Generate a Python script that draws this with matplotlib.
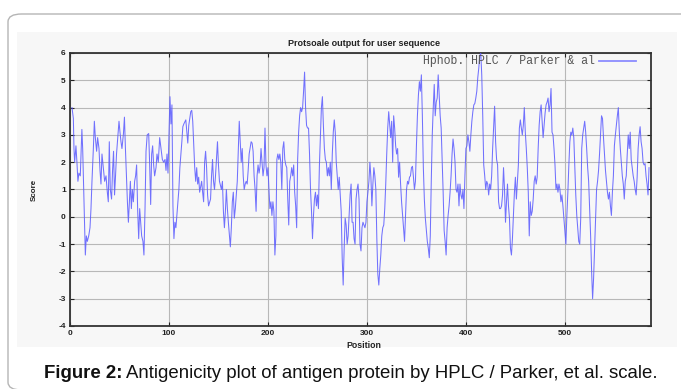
import numpy as np
import matplotlib
matplotlib.use('Agg')
import matplotlib.pyplot as plt
from matplotlib.patches import Rectangle, FancyBboxPatch

# positions 2..198 (irregular spacing)
pos_head = [2, 3.4, 4, 4.7, 6, 7, 8, 9, 10.4, 12, 12.8, 13.8, 14.8, 15.5, 16.5, 17.5, 18.9,
            20.2, 21.2, 22.2, 23.6, 24.6, 25.6, 26.9, 27.9, 29.3, 30.3, 31.3, 32.3, 33.7, 35,
            36.4, 37.7, 38.7, 39.7, 40.7, 42, 43, 44, 45, 46, 47, 48.5, 49.5, 50.5, 51.5, 52.5,
            54, 55, 56, 57, 58, 59, 60, 61, 62, 63, 64, 65.3, 66.3, 67.3, 68.4, 69.4, 70.4,
            71.4, 72.4, 73.7, 74.7, 75.8, 76.8, 78, 79.5, 80.5, 81.5, 82.5, 83.5, 84.5, 85.5,
            86.9, 87.9, 89.2, 90.6, 91.9, 93.3, 94.6, 96, 97, 98, 99, 100, 101, 102, 103,
            104, 105, 106, 107, 108, 109, 110, 111, 113, 114, 115, 117, 118, 119, 120, 122,
            123, 124, 125, 126, 127, 128, 129, 130, 131, 133, 134, 135, 136, 137, 138, 139,
            140, 142, 143, 144, 145, 146, 147, 148, 149, 150, 151, 153, 154, 155, 156, 157,
            158, 159, 160, 162, 163, 164, 165, 166, 167, 168, 169, 170, 171, 172, 173, 174,
            175, 176, 177, 178, 179, 180, 181, 183, 184, 185, 186, 187, 188, 189, 190, 191,
            192, 193, 195, 196, 197, 198]
score_head = [4.0, 3.6, 2.5, 2.0, 2.6, 2.0, 1.3, 1.6, 1.5, 3.2, 2.5, 1.0, -0.5, -1.4, -0.7, -0.9, -0.7,
              -0.4, 0.3, 1.3, 2.5, 3.5, 2.9, 2.4, 2.9, 2.5, 1.7, 1.2, 2.3, 1.8, 1.3,
              1.5, 0.9, 0.55, 2.75, 1.0, 0.65, 1.7, 2.4, 0.8, 1.5, 2.3, 3.0, 3.5, 3.1, 2.75, 2.5,
              3.05, 3.65, 2.5, 1.5, 0.55, -0.2, 0.55, 1.3, 0.3, 1.0, 0.55, 1.3, 1.5, 1.9, 0.2, -0.8, 0.3,
              -0.2, -0.7, -0.9, -1.4, 0.3, 2.4, 3.0, 3.05, 1.9, 0.45, 2.3, 2.6, 1.9, 1.5,
              1.8, 2.3, 2.0, 2.9, 2.5, 2.1, 2.0, 2.1, 1.7, 2.3, 1.6, 3.0, 4.4, 3.4, 4.1,
              0.4, -0.8, -0.2, -0.4, 0.05, 0.55, 1.0, 1.8, 2.75, 3.3, 3.4, 3.55, 3.1, 2.7, 3.35, 3.85,
              3.9, 3.5, 2.6, 1.8, 1.3, 1.8, 1.2, 1.45, 0.9, 1.3, 0.9, 0.55, 2.0, 2.4, 1.8, 0.8,
              0.4, 0.65, 1.5, 2.1, 1.3, 1.0, 1.5, 2.1, 2.75, 1.9, 1.3, 1.0, 1.3, 0.2, -0.4, 0.2,
              1.0, 0.3, -0.2, -1.1, -0.4, 0.55, 0.9, -0.05, 0.3, 0.8, 1.3, 2.4, 3.5, 2.75, 2.0, 2.5,
              1.5, 1.0, 1.2, 1.3, 1.2, 1.7, 2.3, 2.75, 2.7, 2.4, 1.5, 1.0, 0.2, 1.5, 1.9, 1.6,
              1.85, 2.5, 1.5, 1.8, 3.25, 1.9]

# positions 199..585, one value per residue
tail_start = 199
score_tail = [1.5, 1.8, 1.0, 0.3, 0.55, 0.05, 0.55, 0.2, -1.4, -0.7, 2.1,          # 199-209
              2.3, 2.1, 2.3, 2.0, 1.0, 2.5, 2.75, 2.1, 1.9, 1.8,                   # 210-219
              0.65, -0.3, 1.3, 1.5, 1.8, 1.5, 1.9, 0.9, 0.4, -0.4,                 # 220-229
              2.1, 3.1, 3.7, 4.0, 3.85, 4.0, 4.6, 5.3, 4.0, 3.35,                  # 230-239
              3.25, 3.25, 2.3, 1.0, 0.2, -0.8, 0.05, 0.65, 0.9, 0.4,               # 240-249
              0.8, 0.3, 1.9, 3.0, 4.0, 4.4, 3.35, 2.5, 2.1, 2.0,                   # 250-259
              1.5, 1.8, 1.5, 2.0, 1.0, 2.3, 3.1, 3.55, 3.1, 2.0,                   # 260-269
              1.5, 1.0, 1.45, 0.8, 0.2, -1.5, -2.5, -1.15, -0.05, -0.3,            # 270-279
              -1.0, -0.7, 0.05, 0.8, 1.2, -0.2, -0.2, -0.8, -1.0, 0.65,            # 280-289
              1.0, 1.2, 0.65, -1.0, -1.25, -0.4, -0.2, -0.3, -0.4, -0.2,           # 290-299
              0.55, 0.9, 1.3, 2.0, 1.45, 0.4, 1.2, 1.8, 1.5, 1.0,                  # 300-309
              -0.8, -2.1, -2.5, -1.9, -1.4, -0.7, -0.4, -0.3, 0.3, 1.2,            # 310-319
              2.3, 3.25, 3.85, 3.35, 2.9, 3.5, 2.0, 3.7, 3.25, 2.6,                # 320-329
              2.3, 2.5, 1.45, 2.0, 1.2, 0.55, 0.05, -0.4, -0.9, 0.05,              # 330-339
              1.0, 1.3, 1.2, 1.45, 1.5, 1.8, 1.85, 1.45, 1.0, 1.3,                 # 340-349
              2.6, 3.7, 4.45, 4.95, 4.6, 5.2, 3.7, 1.8, 0.65, -0.05,               # 350-359
              -0.5, -0.9, -1.15, -1.5, -0.7, 1.3, 3.0, 4.0, 4.85, 3.7,             # 360-369
              4.2, 4.35, 5.2, 4.45, 3.7, 3.25, 2.1, 0.9, -0.5, -0.9,               # 370-379
              -1.4, -0.4, 0.05, 0.4, 0.9, 1.5, 2.3, 2.85, 2.5, 2.0,                # 380-389
              1.0, 0.9, 1.2, 0.4, 1.2, 0.8, 0.65, 1.0, 0.3, 1.5,                   # 390-399
              2.5, 2.6, 3.0, 2.75, 2.4, 3.0, 3.5, 3.85, 4.1, 4.15,                 # 400-409
              4.35, 4.6, 5.1, 5.45, 5.9, 6.0, 5.2, 3.7, 1.9, 1.5,                  # 410-419
              1.0, 1.3, 1.2, 0.8, 1.2, 1.0, 1.5, 2.5, 3.25, 4.05,                  # 420-429
              2.75, 2.1, 1.9, 0.55, 0.3, 0.3, 0.4, 0.8, 1.8, 1.0,                  # 430-439
              -0.2, 0.55, 1.2, 0.4, -0.05, -1.15, -1.4, -0.8, 0.05, 0.9,           # 440-449
              1.45, 0.65, 1.3, 1.9, 3.25, 3.55, 3.25, 3.0, 3.35, 4.0,              # 450-459
              3.1, 2.5, 1.8, 0.9, -0.7, 0.55, 0.05, 0.2, 0.65, 1.3,                # 460-469
              1.5, 1.2, 1.45, 2.5, 3.35, 3.85, 4.1, 3.5, 2.9, 3.35,                # 470-479
              3.8, 4.1, 4.2, 4.35, 3.85, 4.1, 4.7, 3.1, 3.0, 2.5,                  # 480-489
              1.9, 1.0, 1.2, 0.9, 1.2, 1.0, 0.55, 0.8, 0.4, -0.05,                 # 490-499
              -0.5, -1.0, 0.05, 0.9, 1.9, 2.75, 3.1, 3.0, 3.25, 2.9,               # 500-509
              1.9, 0.8, 0.05, -0.4, -0.9, -1.0, -0.05, 2.5, 3.0, 3.25,             # 510-519
              3.5, 3.1, 2.5, 1.8, 1.3, 0.3, -0.7, -2.0, -3.0, -2.25,               # 520-529
              -1.15, 0.05, 1.0, 1.3, 1.7, 2.3, 3.0, 3.7, 3.6, 2.9,                 # 530-539
              2.3, 1.7, 1.3, 0.9, 0.65, 0.9, 0.4, 0.05, 0.9, 1.5,                  # 540-549
              2.6, 3.0, 3.35, 3.7, 4.0, 3.1, 2.5, 2.0, 1.5, 1.2,                   # 550-559
              0.65, 1.3, 1.5, 2.3, 3.0, 2.5, 3.1, 2.1, 1.8, 1.5,                   # 560-569
              1.3, 1.0, 0.8, 1.45, 2.5, 3.0, 3.3, 2.75, 2.5, 2.0,                  # 570-579
              1.9, 1.95, 1.5, 1.2, 0.8, 1.8]                                       # 580-585

x_ticks = [0, 100, 200, 300, 400, 500]
y_ticks = [-4, -3, -2, -1, 0, 1, 2, 3, 4, 5, 6]

position = np.concatenate([pos_head, np.arange(tail_start, tail_start + len(score_tail))])
score = np.concatenate([score_head, score_tail])

plt.rcParams['font.family'] = ['Liberation Sans', 'DejaVu Sans']
plt.rcParams['axes.unicode_minus'] = False

fig = plt.figure(figsize=(6.81, 3.89), dpi=100)
W, H = 681, 389

# outer rounded frame and grey panel behind the plot
frame = FancyBboxPatch((8 / W, 1 - 390 / H), 700 / W, 376 / H,
                       boxstyle='round,pad=0,rounding_size=0.02',
                       transform=fig.transFigure, facecolor='white',
                       edgecolor='#b5b5b5', linewidth=1.0, zorder=-2)
fig.patches.append(frame)
panel = Rectangle((17 / W, 1 - 347 / H), 660 / W, 315 / H, transform=fig.transFigure,
                  facecolor='#f7f7f7', edgecolor='none', zorder=-1)
fig.patches.append(panel)

ax = fig.add_axes([70 / W, 1 - 326 / H, 581 / W, 273 / H])
ax.set_zorder(2)
ax.set_facecolor('#f7f7f7')
ax.plot(position, score, color='#5a5aff', linewidth=0.75, alpha=0.85, zorder=3)

ax.set_xlim(0, 587)
ax.set_ylim(-4, 6)
ax.set_xticks(x_ticks)
ax.set_yticks(y_ticks)
ax.grid(True, color='#b8b8b8', linewidth=0.8)
ax.tick_params(direction='in', length=3, width=0.8, top=True, right=True,
               labelsize=6, pad=3, colors='#222222')
for lab in ax.get_xticklabels() + ax.get_yticklabels():
    lab.set_fontweight('bold')
for sp in ax.spines.values():
    sp.set_linewidth(1.3)
    sp.set_color('#333333')

# legend in gnuplot style
ax.text(0.903, 0.971, 'Hphob. HPLC / Parker & al', transform=ax.transAxes,
        ha='right', va='center', fontsize=8.3, family='Liberation Mono', color='#555555')
ax.plot([0.91, 0.975], [0.971, 0.971], transform=ax.transAxes,
        color='#8c8cff', linewidth=1.3)

fig.text(364 / W, 1 - 43 / H, 'Protsoale output for user sequence', ha='center', va='center',
         fontsize=6.5, fontweight='bold', color='#222222')
fig.text(34 / W, 1 - 190 / H, 'Score', rotation=90, ha='center', va='center',
         fontsize=5.8, fontweight='bold', color='#222222')
fig.text(364 / W, 1 - 345 / H, 'Position', ha='center', va='center',
         fontsize=6.3, fontweight='bold', color='#222222')

# caption: bold label then regular text
cap_y = 1 - 373 / H
t1 = fig.text(44 / W, cap_y, 'Figure 2:', ha='left', va='center',
              fontsize=13.4, fontweight='bold', color='#111111')
fig.canvas.draw()
bb = t1.get_window_extent(renderer=fig.canvas.get_renderer())
fig.text(bb.x1 / W + 4 / W, cap_y, 'Antigenicity plot of antigen protein by HPLC / Parker, et al. scale.',
         ha='left', va='center', fontsize=13.4, color='#111111')

fig.savefig('out.png', dpi=100)
